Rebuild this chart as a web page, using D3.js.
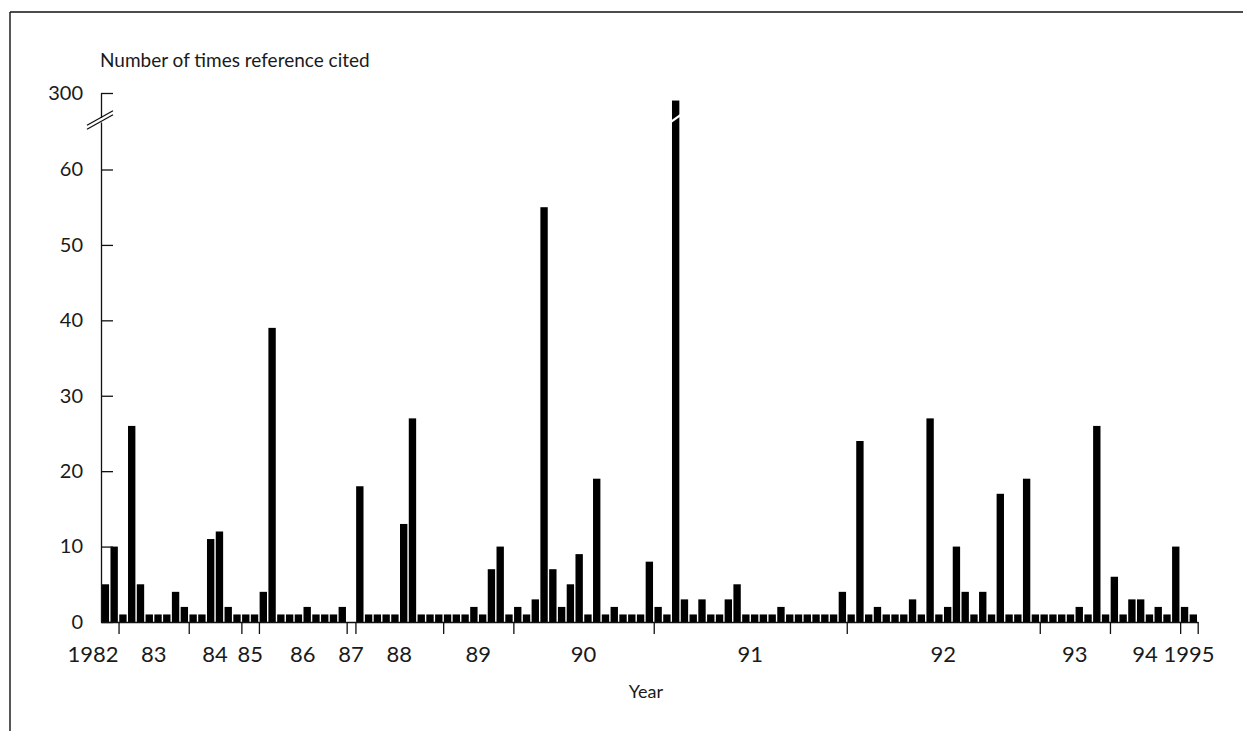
<!DOCTYPE html>
<html>
<head>
<meta charset="utf-8">
<script src="https://cdn.jsdelivr.net/npm/d3@7/dist/d3.min.js"></script>
<style>
  html, body { margin: 0; padding: 0; background: #fff; }
  svg { display: block; }
  text { font-family: "Lato", "Open Sans", sans-serif; fill: #1a1a1a; }
</style>
</head>
<body>
<svg id="chart" width="1243" height="731"></svg>
<script>
// Year groups along the x axis: label and how many references fall in each year
const yearLabels  = ["1982", "83", "84", "85", "86", "87", "88", "89", "90", "91", "92", "93", "94", "1995"];
const barsPerYear = [2, 8, 6, 2, 10, 1, 10, 8, 16, 22, 22, 8, 8, 2];

// Number of times each reference was cited, in publication order
const citations = [
  5, 10,                                                   // 1982
  1, 26, 5, 1, 1, 1, 4, 2,                                 // 1983
  1, 1, 11, 12, 2, 1,                                      // 1984
  1, 1,                                                    // 1985
  4, 39, 1, 1, 1, 2, 1, 1, 1, 2,                           // 1986
  0,                                                       // 1987
  18, 1, 1, 1, 1, 13, 27, 1, 1, 1,                         // 1988
  1, 1, 1, 2, 1, 7, 10, 1,                                 // 1989
  2, 1, 3, 55, 7, 2, 5, 9, 1, 19, 1, 2, 1, 1, 1, 8,        // 1990
  2, 1, 299, 3, 1, 3, 1, 1, 3, 5, 1, 1, 1, 1, 2, 1, 1, 1, 1, 1, 1, 4,   // 1991
  1, 24, 1, 2, 1, 1, 1, 3, 1, 27, 1, 2, 10, 4, 1, 4, 1, 17, 1, 1, 19, 1, // 1992
  1, 1, 1, 1, 2, 1, 26, 1,                                 // 1993
  6, 1, 3, 3, 1, 2, 1, 10,                                 // 1994
  2, 1                                                     // 1995
];

// Y axis tick values: lower segment and the single tick above the break
const lowerTicks = [0, 10, 20, 30, 40, 50, 60];
const upperTicks = [300];

const svg = d3.select("#chart");

// Frame: top and left rules
svg.append("line").attr("x1", 10).attr("x2", 1243).attr("y1", 12).attr("y2", 12)
  .attr("stroke", "#111").attr("stroke-width", 1.4);
svg.append("line").attr("x1", 10).attr("x2", 10).attr("y1", 12).attr("y2", 731)
  .attr("stroke", "#111").attr("stroke-width", 1.4);

const left = 101, right = 1197.7, baseY = 622;
const pxPerUnit = (622 - 169.5) / 60;

// Broken y axis: a lower linear segment and a short upper one at the same unit size
const lowTopY = 122, highBottomY = 117.5, topY = 93;
const yLow = d3.scaleLinear()
  .domain([0, (baseY - lowTopY) / pxPerUnit])
  .range([baseY, lowTopY]);
const yHigh = d3.scaleLinear()
  .domain([300 - (highBottomY - topY) / pxPerUnit, 300])
  .range([highBottomY, topY]);
const lowMax = yLow.domain()[1];
const y = v => (v <= lowMax ? yLow(v) : yHigh(v));

// X: one band per reference, year boundaries on a matching linear scale
const n = citations.length;
const x = d3.scaleBand().domain(d3.range(n)).range([left, right])
  .paddingInner(0.16).paddingOuter(0.08);
const xPos = d3.scaleLinear().domain([0, n]).range([left, right]);

const bounds = d3.cumsum(barsPerYear);           // end index of each year
const starts = [0, ...bounds.slice(0, -1)];

// Bars
svg.append("g").selectAll("rect").data(citations).join("rect")
  .attr("x", (d, i) => x(i))
  .attr("width", x.bandwidth())
  .attr("y", d => y(d))
  .attr("height", d => baseY - y(d))
  .attr("fill", "#000");

// White slanted cut through any bar that crosses the axis break
const slope = -0.7, cutHalf = 1.4, cutY = 118.5;
citations.forEach((d, i) => {
  if (d > lowMax) {
    const x0 = x(i) - 1, x1 = x(i) + x.bandwidth() + 1, xc = (x0 + x1) / 2;
    const yA = cutY + slope * (x0 - xc), yB = cutY + slope * (x1 - xc);
    svg.append("polygon")
      .attr("points", [[x0, yA - cutHalf], [x1, yB - cutHalf], [x1, yB + cutHalf], [x0, yA + cutHalf]].join(" "))
      .attr("fill", "#fff");
  }
});

// Lower y axis with inward ticks
const fmt = d3.format("d");
const axisLow = svg.append("g").attr("transform", `translate(${left},0)`)
  .call(d3.axisLeft(yLow).tickValues(lowerTicks).tickFormat(fmt)
    .tickSizeInner(-12).tickSizeOuter(0).tickPadding(18));
// Upper y axis segment above the break
const axisHigh = svg.append("g").attr("transform", `translate(${left},0)`)
  .call(d3.axisLeft(yHigh).tickValues(upperTicks).tickFormat(fmt)
    .tickSizeInner(-12).tickSizeOuter(0).tickPadding(18));

[axisLow, axisHigh].forEach(g => {
  g.selectAll("path, line").attr("stroke", "#111").attr("stroke-width", 1.3);
  g.selectAll("text").attr("font-size", 20).attr("font-family", "Lato, sans-serif").attr("fill", "#1a1a1a");
});

// Break marks on the y axis
[[125.2, 110.7], [129.2, 114.7]].forEach(([ya, yb]) => {
  svg.append("line").attr("x1", left - 14).attr("x2", left + 12)
    .attr("y1", ya).attr("y2", yb).attr("stroke", "#111").attr("stroke-width", 1.3);
});

// X axis: baseline with year boundary ticks
const axisX = svg.append("g").attr("transform", `translate(0,${baseY})`)
  .call(d3.axisBottom(xPos).tickValues(bounds).tickSizeInner(12).tickSizeOuter(0).tickFormat(""));
axisX.selectAll("path, line").attr("stroke", "#111").attr("stroke-width", 1.3);

// Year labels, centred in each year's span (first one set against its end tick)
svg.append("g").selectAll("text").data(yearLabels).join("text")
  .attr("x", (d, i) => i === 0 ? xPos(bounds[0]) : xPos((starts[i] + bounds[i]) / 2))
  .attr("y", 662)
  .attr("text-anchor", (d, i) => i === 0 ? "end" : "middle")
  .attr("font-size", 22)
  .text(d => d);

// Axis titles
svg.append("text").attr("x", 100).attr("y", 67).attr("font-size", 19)
  .text("Number of times reference cited");
svg.append("text").attr("x", 646).attr("y", 698).attr("text-anchor", "middle")
  .attr("font-size", 18).text("Year");
</script>
</body>
</html>
